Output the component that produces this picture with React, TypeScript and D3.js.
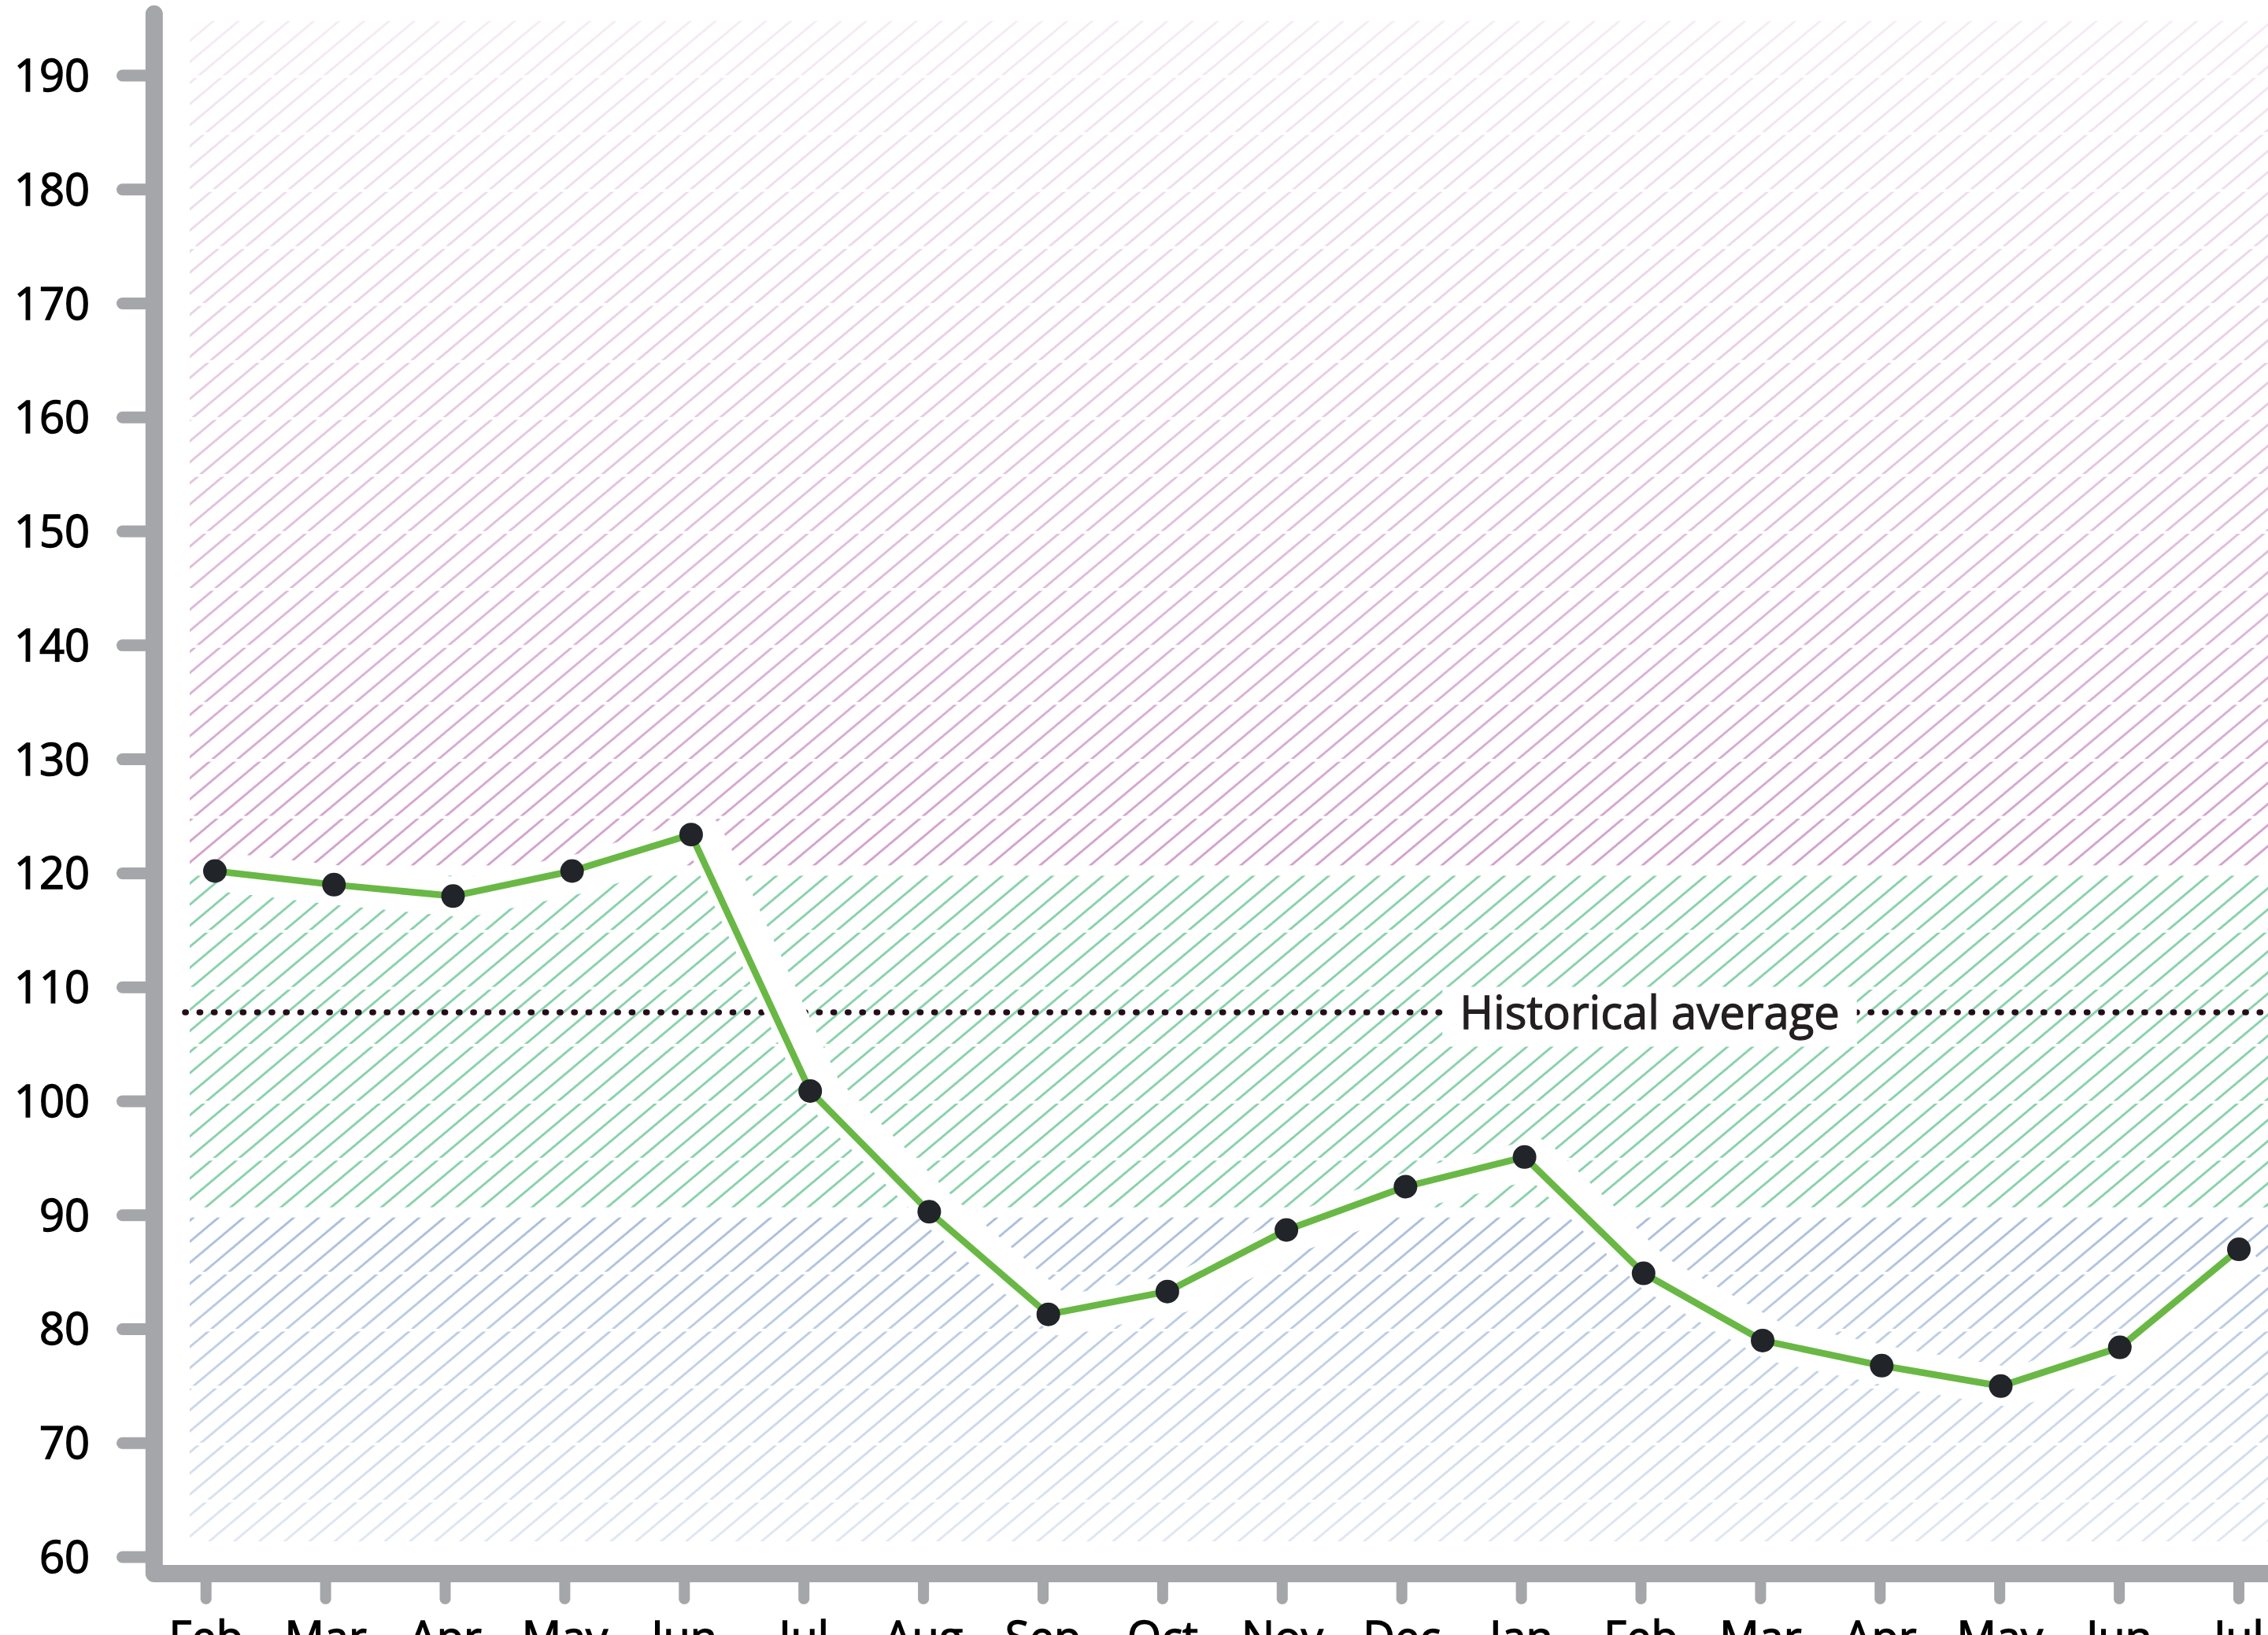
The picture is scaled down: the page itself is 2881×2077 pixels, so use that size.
import * as d3 from "d3";
import { useEffect, useRef } from "react";

const months = ["Feb", "Mar", "Apr", "May", "Jun", "Jul", "Aug", "Sep", "Oct", "Nov", "Dec", "Jan", "Feb", "Mar", "Apr", "May", "Jun", "Jul"];
const values = [120.2, 119.0, 118.0, 120.2, 123.4, 100.9, 90.3, 81.3, 83.3, 88.7, 92.5, 95.1, 84.9, 79.0, 76.8, 75.0, 78.4, 87.0];
const historicalAverage = 107.8;
const averageLabel = "Historical average";
const yTicks = [60, 70, 80, 90, 100, 110, 120, 130, 140, 150, 160, 170, 180, 190];
const zoneNames = ["low", "normal", "high"];
const zoneFloors = [60, 90, 120];
const zoneCeilings = [90, 120, 195];

const width = 2881;
const height = 2077;
const font = "'Open Sans', 'Noto Sans', sans-serif";
const axisColor = "#a5a6aa";
const zoneColors: Record<string, string> = { low: "#aabfdb", normal: "#8ad2ad", high: "#d2a2cd" };

export default function App() {
  const svgRef = useRef<SVGSVGElement | null>(null);

  useEffect(() => {
    if (!svgRef.current) return;
    const svg = d3.select(svgRef.current);
    svg.selectAll("*").remove();

    const y = d3.scaleLinear().domain([60, 190]).range([1978, 96]);
    const idx = d3.range(months.length);
    const xTick = d3.scalePoint<number>().domain(idx).range([261.7, 2844]);
    const xPoint = d3.scalePoint<number>().domain(idx).range([273, 2844]);
    const axisX = 195.8;
    const axisY = y(60) + 21;
    const hatchLeft = 241;

    const defs = svg.append("defs");
    zoneNames.forEach((name) => {
      const p = defs
        .append("pattern")
        .attr("id", `hatch-${name}`)
        .attr("patternUnits", "userSpaceOnUse")
        .attr("width", 40)
        .attr("height", 20.5)
        .attr("patternTransform", "rotate(-40)");
      p.append("line")
        .attr("x1", -5)
        .attr("x2", 45)
        .attr("y1", 10.25)
        .attr("y2", 10.25)
        .attr("stroke", zoneColors[name])
        .attr("stroke-width", 3);
    });

    const fadeTop = defs
      .append("linearGradient")
      .attr("id", "fade-top")
      .attr("gradientUnits", "userSpaceOnUse")
      .attr("x1", 0)
      .attr("x2", 0)
      .attr("y1", y(195))
      .attr("y2", y(120));
    fadeTop.append("stop").attr("offset", 0).attr("stop-color", "#fff").attr("stop-opacity", 0.8);
    fadeTop.append("stop").attr("offset", 1).attr("stop-color", "#fff").attr("stop-opacity", 0);

    const fadeBottom = defs
      .append("linearGradient")
      .attr("id", "fade-bottom")
      .attr("gradientUnits", "userSpaceOnUse")
      .attr("x1", 0)
      .attr("x2", 0)
      .attr("y1", y(90))
      .attr("y2", y(61));
    fadeBottom.append("stop").attr("offset", 0).attr("stop-color", "#fff").attr("stop-opacity", 0);
    fadeBottom.append("stop").attr("offset", 1).attr("stop-color", "#fff").attr("stop-opacity", 0.65);

    // hatched bands, 5 units tall, with small gaps between them
    const bands: { zone: string; lo: number; hi: number; edge: boolean }[] = [];
    zoneNames.forEach((zone, i) => {
      for (let lo = zoneFloors[i]; lo < zoneCeilings[i]; lo += 5) {
        bands.push({ zone, lo, hi: lo + 5, edge: lo === zoneFloors[i] });
      }
    });
    svg
      .append("g")
      .selectAll("rect")
      .data(bands)
      .join("rect")
      .attr("x", hatchLeft)
      .attr("width", width - hatchLeft + 50)
      .attr("y", (b) => y(b.hi) + 3)
      .attr("height", (b) => {
        const inset = b.lo === 60 ? 20 : b.edge ? 10 : 0.5;
        return y(b.lo) - inset - (y(b.hi) + 3);
      })
      .attr("fill", (b) => `url(#hatch-${b.zone})`);

    svg
      .append("rect")
      .attr("x", hatchLeft)
      .attr("width", width)
      .attr("y", y(195))
      .attr("height", y(120) - y(195))
      .attr("fill", "url(#fade-top)");
    svg
      .append("rect")
      .attr("x", hatchLeft)
      .attr("width", width)
      .attr("y", y(90))
      .attr("height", y(60) - y(90))
      .attr("fill", "url(#fade-bottom)");

    // historical average
    const avgY = y(historicalAverage);
    svg
      .append("line")
      .attr("x1", 235)
      .attr("x2", width + 20)
      .attr("y1", avgY)
      .attr("y2", avgY)
      .attr("stroke", "#250d1b")
      .attr("stroke-width", 7.5)
      .attr("stroke-linecap", "round")
      .attr("stroke-dasharray", "1.2 17.1");

    const line = d3
      .line<number>()
      .x((_v, i) => xPoint(i) ?? 0)
      .y((v) => y(v));

    // white halo behind the series
    svg
      .append("path")
      .datum(values)
      .attr("d", line)
      .attr("fill", "none")
      .attr("stroke", "#fff")
      .attr("stroke-width", 50)
      .attr("stroke-linejoin", "round")
      .attr("transform", "translate(16,2)");

    const labelX = (xTick(12) ?? 0) + 11;
    const label = svg
      .append("text")
      .attr("x", labelX)
      .attr("y", avgY + 21)
      .attr("text-anchor", "middle")
      .attr("font-family", font)
      .attr("font-size", 58)
      .attr("fill", "#231f20")
      .attr("stroke", "#231f20")
      .attr("stroke-width", 1.3)
      .text(averageLabel);
    const tw = (label.node() as SVGTextElement).getComputedTextLength();
    svg
      .insert("rect", "text")
      .attr("x", labelX - tw / 2 - 22)
      .attr("width", tw + 44)
      .attr("y", avgY - 32)
      .attr("height", 72)
      .attr("fill", "#fff");

    svg
      .append("path")
      .datum(values)
      .attr("d", line)
      .attr("fill", "none")
      .attr("stroke", "#69b845")
      .attr("stroke-width", 8.5)
      .attr("stroke-linejoin", "round");

    svg
      .append("g")
      .selectAll("circle")
      .data(values)
      .join("circle")
      .attr("cx", (_v, i) => xPoint(i) ?? 0)
      .attr("cy", (v) => y(v))
      .attr("r", 15)
      .attr("fill", "#212428");

    // axes
    const axes = svg.append("g");
    axes
      .selectAll("line.ytick")
      .data(yTicks)
      .join("line")
      .attr("class", "ytick")
      .attr("x1", 155.5)
      .attr("x2", axisX)
      .attr("y1", (t) => y(t))
      .attr("y2", (t) => y(t))
      .attr("stroke", axisColor)
      .attr("stroke-width", 15)
      .attr("stroke-linecap", "round");
    axes
      .selectAll("line.xtick")
      .data(idx)
      .join("line")
      .attr("class", "xtick")
      .attr("x1", (i) => xTick(i) ?? 0)
      .attr("x2", (i) => xTick(i) ?? 0)
      .attr("y1", axisY)
      .attr("y2", axisY + 32)
      .attr("stroke", axisColor)
      .attr("stroke-width", 14)
      .attr("stroke-linecap", "round");
    axes
      .append("path")
      .attr("d", `M${axisX},17.7V${axisY}H${width + 40}`)
      .attr("fill", "none")
      .attr("stroke", axisColor)
      .attr("stroke-width", 22)
      .attr("stroke-linecap", "round")
      .attr("stroke-linejoin", "round");

    axes
      .selectAll("text.ylabel")
      .data(yTicks)
      .join("text")
      .attr("class", "ylabel")
      .attr("x", 114)
      .attr("y", (t) => y(t) + 20)
      .attr("text-anchor", "end")
      .attr("font-family", font)
      .attr("font-size", 56)
      .attr("fill", "#000")
      .attr("stroke", "#000")
      .attr("stroke-width", 1.4)
      .text((t) => String(t));
    axes
      .selectAll("text.xlabel")
      .data(idx)
      .join("text")
      .attr("class", "xlabel")
      .attr("x", (i) => xTick(i) ?? 0)
      .attr("y", 2100)
      .attr("text-anchor", "middle")
      .attr("font-family", font)
      .attr("font-size", 56)
      .attr("fill", "#000")
      .attr("stroke", "#000")
      .attr("stroke-width", 1.4)
      .text((i) => months[i]);
  }, []);

  return (
    <svg
      ref={svgRef}
      width={width}
      height={height}
      viewBox={`0 0 ${width} ${height}`}
      style={{ position: "absolute", left: 0, top: 0, background: "#fff" }}
    />
  );
}
